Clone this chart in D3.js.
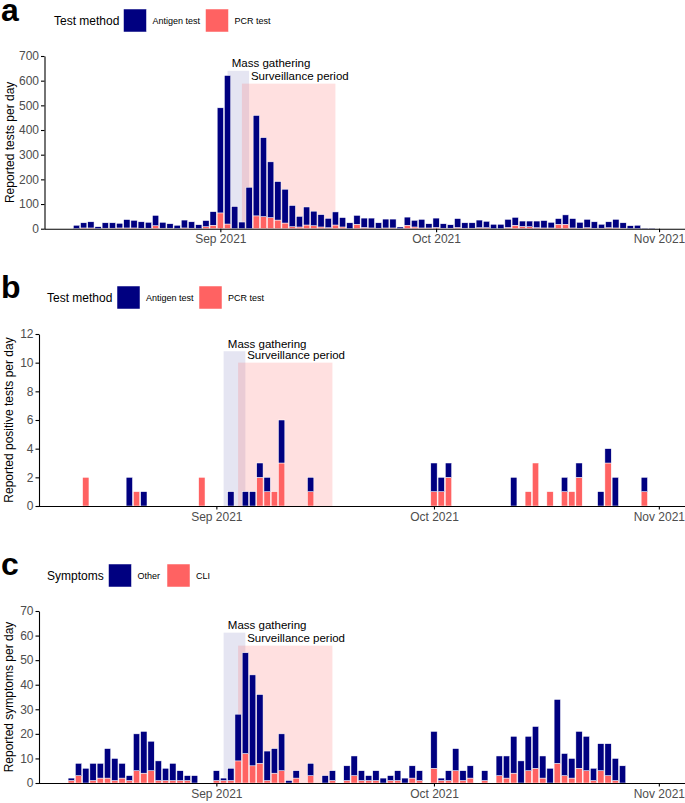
<!DOCTYPE html>
<html><head><meta charset="utf-8">
<script src="https://cdn.jsdelivr.net/npm/d3@7"></script>
<style>
body{margin:0;background:#fff}
svg{display:block}
text{font-family:"Liberation Sans",Arial,Helvetica,sans-serif}
</style>
</head><body><svg id="chart" width="685" height="803"></svg>
<script>
// ---------- DATA ----------
const tickDates = ["2021-09-01", "2021-10-01", "2021-11-01"];

// Panel a: daily reported tests, Aug 12 – Oct 31 2021
const testsStart = "2021-08-12";
const testsPCR = [0,3,3,0,2,2,3,3,3,2,2,12,2,2,0,3,2,0,8,14,
  64,19,0,0,0,52,49,45,35,23,8,7,15,12,7,4,15,7,0,18,5,3,2,3,3,0,14,7,3,3,
  5,2,2,5,2,2,4,4,0,0,5,14,9,8,4,3,3,18,18,3,2,4,2,2,4,3,2,0,0,0,0];
const testsAntigen = [14,21,25,8,22,22,19,34,31,26,24,42,24,18,14,32,26,16,25,55,
  426,602,90,27,168,407,320,226,156,137,86,43,73,59,50,38,53,38,24,36,38,40,22,36,36,7,33,27,35,17,
  38,18,14,36,22,22,31,26,18,18,33,32,22,23,27,30,23,23,38,38,24,34,26,16,24,35,22,12,14,2,2];

// Panel b: reported positive tests
const posDates = ["2021-08-14","2021-08-20","2021-08-21","2021-08-22","2021-08-30",
  "2021-09-03","2021-09-05","2021-09-06","2021-09-07","2021-09-08","2021-09-09","2021-09-10","2021-09-14",
  "2021-10-01","2021-10-02","2021-10-03","2021-10-12","2021-10-14","2021-10-15","2021-10-17",
  "2021-10-19","2021-10-20","2021-10-21","2021-10-24","2021-10-25","2021-10-26","2021-10-30"];
const posPCR =     [2,0,1,0,2, 0,0,0,2,1,1,3,1, 1,1,2,0,1,3,1, 1,1,2,0,3,0,1];
const posAntigen = [0,2,0,1,0, 1,1,1,1,1,0,3,1, 2,1,1,2,0,0,0, 1,0,1,1,1,2,1];

// Panel c: reported symptoms, Aug 12 – Oct 27 2021
const sympStart = "2021-08-12";
const sympCLI = [1,3,0,1,2,2,1,2,1,5,4,5,1,1,1,1,1,0,0,0,
  1,1,1,9,12,7,8,1,4,5,0,2,0,3,0,0,1,0,1,3,1,1,1,0,1,1,0,2,1,0,
  6,1,1,5,1,2,0,1,0,3,2,4,0,5,6,2,0,8,3,2,6,5,1,5,3,1,0];
const sympOther = [1,5,6,7,6,12,9,6,2,15,17,12,8,5,7,4,2,3,0,0,
  4,1,5,19,41,37,28,12,10,15,1,3,0,5,0,3,4,0,6,8,4,2,4,2,2,4,2,5,4,0,
  15,1,4,9,4,5,0,4,0,8,9,15,9,14,17,9,6,26,9,8,15,14,5,11,13,9,7];

// Periods
const massGathering = ["2021-09-02", "2021-09-05"];
const surveillance = ["2021-09-04", "2021-09-17"];

// ---------- DRAW ----------
const svg = d3.select("#chart");
const parse = d3.utcParse("%Y-%m-%d");
const NAVY = "#000080", RED = "#FF6262";
const xDomain = [new Date(Date.UTC(2021,7,7,13,12)), new Date(Date.UTC(2021,10,4,9,36))];
const dayRange = (start, n) => d3.range(n).map(i => d3.utcDay.offset(parse(start), i));

function panel(o) {
  const g = svg.append("g");
  const x = d3.scaleUtc().domain(xDomain).range([o.left, 683.5]);
  const y = d3.scaleLinear().domain([0, o.yMax]).range([o.bottom, o.top]);

  // bands
  const bands = [
    {r: massGathering, top: o.massTop, fill: NAVY, op: 0.1},
    {r: surveillance, top: o.survTop, fill: RED, op: 0.2}
  ];
  g.selectAll("rect.band").data(bands).join("rect")
    .attr("x", d => x(parse(d.r[0])))
    .attr("width", d => x(parse(d.r[1])) - x(parse(d.r[0])))
    .attr("y", d => y(d.top))
    .attr("height", d => y(0) - y(d.top))
    .attr("fill", d => d.fill).attr("fill-opacity", d => d.op);

  // stacked bars
  const rows = o.dates.map((d, i) => ({date: d, lo: o.lo[i], hi: o.hi[i]}));
  const stacked = d3.stack().keys(["lo", "hi"])(rows);
  const d0 = parse("2021-09-01");
  const bw = x(d3.utcHour.offset(d0, 21.6)) - x(d0);
  const colors = {lo: RED, hi: NAVY};
  stacked.forEach(layer => {
    g.append("g").selectAll("rect").data(layer.filter(s => s[1] > s[0])).join("rect")
      .attr("x", s => x(s.data.date) - bw / 2)
      .attr("width", bw)
      .attr("y", s => y(s[1]))
      .attr("height", s => y(s[0]) - y(s[1]))
      .attr("fill", colors[layer.key])
      .attr("stroke", "#fff").attr("stroke-width", 0.5);
  });

  // band labels
  const lab = (date, hrs, val, txt) => g.append("text")
    .attr("x", x(d3.utcHour.offset(parse(date), hrs)))
    .attr("y", y(val) - 3.5)
    .attr("font-size", 11.5).attr("fill", "#000").text(txt);
  lab("2021-09-01", 1.6 * 24, o.massTop, "Mass gathering");
  lab("2021-09-01", 4.25 * 24, o.survTop, "Surveillance period");

  // axes
  const ya = g.append("g").attr("transform", `translate(${o.left},0)`)
    .call(d3.axisLeft(y).tickValues(o.yTicks).tickSize(3.5).tickPadding(2).tickSizeOuter(0));
  const xa = g.append("g").attr("transform", `translate(0,${o.bottom})`)
    .call(d3.axisBottom(x).tickValues(tickDates.map(parse)).tickFormat(d3.utcFormat("%b %Y"))
      .tickSize(3.5).tickPadding(2.5).tickSizeOuter(0));
  xa.select(".domain").attr("d", `M${o.left},0.5H685`);
  [ya, xa].forEach(a => {
    a.select(".domain").attr("stroke", "#000").attr("stroke-width", 1.1);
    a.selectAll(".tick line").attr("stroke", "#000").attr("stroke-width", 1.1);
    a.selectAll(".tick text").attr("font-size", 12).attr("fill", "#4d4d4d")
      .attr("font-family", '"Liberation Sans",Arial,sans-serif');
  });

  // y title
  g.append("text")
    .attr("transform", `translate(${o.titleX},${(o.top + o.bottom) / 2}) rotate(-90)`)
    .attr("text-anchor", "middle").attr("dominant-baseline", "central")
    .attr("font-size", 12).attr("fill", "#000").text(o.yTitle);

  // panel letter
  g.append("text").attr("x", 1).attr("y", o.letterY)
    .attr("font-size", 32).attr("font-weight", "bold").attr("fill", "#000").text(o.letter);

  // legend
  const L = o.legend;
  g.append("text").attr("x", L.x).attr("y", L.cy).attr("dominant-baseline", "central")
    .attr("font-size", 12).attr("fill", "#000").text(L.title);
  L.items.forEach(it => {
    g.append("rect").attr("x", it.bx).attr("y", L.cy - 11.5).attr("width", 23).attr("height", 23)
      .attr("fill", it.color).attr("stroke", "#fff").attr("stroke-width", 0.5);
    g.append("text").attr("x", it.bx + 29).attr("y", L.cy).attr("dominant-baseline", "central")
      .attr("font-size", 9).attr("fill", "#000").text(it.label);
  });
}

panel({
  letter: "a", letterY: 21,
  left: 44.5, top: 56, bottom: 228.7, yMax: 700, yTicks: [0,100,200,300,400,500,600,700],
  dates: dayRange(testsStart, testsPCR.length), lo: testsPCR, hi: testsAntigen,
  massTop: 640, survTop: 588, yTitle: "Reported tests per day", titleX: 10,
  legend: {x: 54, cy: 20.5, title: "Test method",
    items: [{bx: 123.5, color: NAVY, label: "Antigen test"}, {bx: 205.5, color: RED, label: "PCR test"}]}
});
panel({
  letter: "b", letterY: 298,
  left: 39, top: 334, bottom: 506, yMax: 12, yTicks: [0,2,4,6,8,10,12],
  dates: posDates.map(parse), lo: posPCR, hi: posAntigen,
  massTop: 10.8, survTop: 10, yTitle: "Reported positive tests per day", titleX: 9,
  legend: {x: 47, cy: 297.5, title: "Test method",
    items: [{bx: 117, color: NAVY, label: "Antigen test"}, {bx: 199, color: RED, label: "PCR test"}]}
});
panel({
  letter: "c", letterY: 575,
  left: 39, top: 611, bottom: 783, yMax: 70, yTicks: [0,10,20,30,40,50,60,70],
  dates: dayRange(sympStart, sympCLI.length), lo: sympCLI, hi: sympOther,
  massTop: 61.2, survTop: 55.9, yTitle: "Reported symptoms per day", titleX: 9,
  legend: {x: 47, cy: 575.5, title: "Symptoms",
    items: [{bx: 108.5, color: NAVY, label: "Other"}, {bx: 167, color: RED, label: "CLI"}]}
});
</script>
</body></html>
